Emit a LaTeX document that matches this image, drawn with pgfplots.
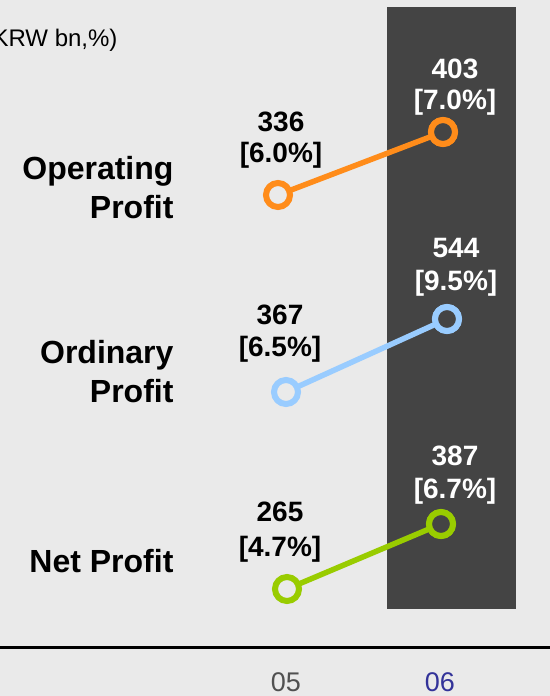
\documentclass[border=0pt]{standalone}
\usepackage{fontspec}
\setmainfont{Liberation Sans}
\usepackage{pgfplots}
\pgfplotsset{compat=1.18}
\definecolor{bgc}{HTML}{EAEAEA}
\definecolor{colbar}{HTML}{444444}
\definecolor{opc}{HTML}{FF8C1A}
\definecolor{ordc}{HTML}{99CCFF}
\definecolor{netc}{HTML}{99CC00}
\definecolor{lab05}{HTML}{505050}
\definecolor{lab06}{HTML}{333399}
\newcommand{\numfont}{\fontsize{28bp}{31bp}\selectfont\bfseries}
\newcommand{\rowfont}{\fontsize{32bp}{38bp}\selectfont\bfseries}
\begin{document}
\begin{tikzpicture}
\begin{axis}[
  width=550bp, height=696bp, scale only axis,
  xmin=0, xmax=550, ymin=0, ymax=696, y dir=reverse,
  axis lines=none, clip=false,
  axis background/.style={fill=bgc},
  every node/.append style={inner sep=0pt},
]
% highlighted 06 column
\fill[colbar] (axis cs:387,7) rectangle (axis cs:516,609);
% base line
\draw[black,line width=3bp] (axis cs:0,647.5) -- (axis cs:550,647.5);

% series: Operating, Ordinary, Net profit (schematic positions per band)
\addplot[opc, line width=5.5bp, mark=*, mark size=12bp,
  mark options={fill=bgc, draw=opc, line width=6bp}] coordinates {(278,195) (443,132)};
\addplot[opc, only marks, mark=*, mark size=12bp,
  mark options={fill=colbar, draw=opc, line width=6bp}] coordinates {(443,132)};

\addplot[ordc, line width=5.5bp, mark=*, mark size=12bp,
  mark options={fill=bgc, draw=ordc, line width=6bp}] coordinates {(286,392) (447,319)};
\addplot[ordc, only marks, mark=*, mark size=12bp,
  mark options={fill=colbar, draw=ordc, line width=6bp}] coordinates {(447,319)};

\addplot[netc, line width=5.5bp, mark=*, mark size=12bp,
  mark options={fill=bgc, draw=netc, line width=6bp}] coordinates {(287,589) (441,524)};
\addplot[netc, only marks, mark=*, mark size=12bp,
  mark options={fill=colbar, draw=netc, line width=6bp}] coordinates {(441,524)};

% value labels
\node[anchor=base, font=\numfont] at (axis cs:281,132) {336};
\node[anchor=base, font=\numfont] at (axis cs:281,163) {[6.0\%]};
\node[anchor=base, font=\numfont, text=white] at (axis cs:455,79) {403};
\node[anchor=base, font=\numfont, text=white] at (axis cs:455,110) {[7.0\%]};

\node[anchor=base, font=\numfont] at (axis cs:280,324) {367};
\node[anchor=base, font=\numfont] at (axis cs:280,356) {[6.5\%]};
\node[anchor=base, font=\numfont, text=white] at (axis cs:456,257) {544};
\node[anchor=base, font=\numfont, text=white] at (axis cs:456,290) {[9.5\%]};

\node[anchor=base, font=\numfont] at (axis cs:280,521) {265};
\node[anchor=base, font=\numfont] at (axis cs:280,556) {[4.7\%]};
\node[anchor=base, font=\numfont, text=white] at (axis cs:455,465) {387};
\node[anchor=base, font=\numfont, text=white] at (axis cs:455,498) {[6.7\%]};

% row labels
\node[anchor=base east, font=\rowfont] at (axis cs:177,180) {Operating};
\node[anchor=base east, font=\rowfont] at (axis cs:177,218) {Profit};
\node[anchor=base east, font=\rowfont] at (axis cs:177,363) {Ordinary};
\node[anchor=base east, font=\rowfont] at (axis cs:177,402) {Profit};
\node[anchor=base east, font=\rowfont] at (axis cs:177,572) {Net Profit};

% unit (cut at the left edge, as in the source slide)
\node[anchor=base east, font=\fontsize{24bp}{27bp}\selectfont] at (axis cs:121,47) {(KRW bn,\%)};

% x labels
\node[anchor=base, font=\fontsize{27bp}{30bp}\selectfont, text=lab05] at (axis cs:286,691) {05};
\node[anchor=base, font=\fontsize{27bp}{30bp}\selectfont, text=lab06] at (axis cs:440,691) {06};
\end{axis}
\pgfresetboundingbox
\path (current axis.south west) rectangle (current axis.north east);
\end{tikzpicture}
\end{document}
